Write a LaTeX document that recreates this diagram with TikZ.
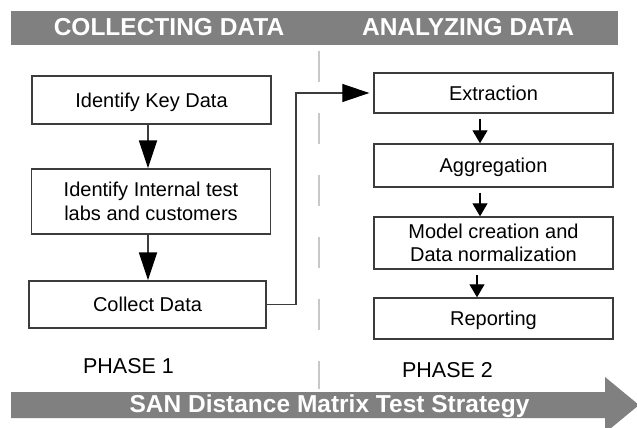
\documentclass[tikz,border=0pt]{standalone}
\usepackage{fontspec}
\setmainfont{Liberation Sans}
\usetikzlibrary{arrows.meta}
\definecolor{bandgray}{RGB}{128,128,128}
\definecolor{boxline}{RGB}{60,60,60}
\definecolor{dashgray}{RGB}{200,200,200}
\begin{document}
\begin{tikzpicture}[x=1pt,y=-1pt,
  box/.style={draw=boxline, line width=1.4pt, fill=white, font=\fontsize{20}{23.5}\selectfont, align=center, inner sep=0pt, minimum width=239pt},
  onel/.style={text height=14.5pt, text depth=0pt},
  bigarr/.style={draw=boxline, line width=1.8pt, -{Triangle[width=18pt,length=28pt,color=black]}},
  smallarr/.style={draw=black, line width=1.3pt, -{Triangle[width=15pt,length=13pt]}, shorten <=5pt},
  link/.style={draw=boxline, line width=1.2pt, -{Triangle[width=18pt,length=27pt,color=black]}, shorten >=4pt},
  hdr/.style={text=white, font=\fontsize{24.5}{28}\selectfont\bfseries, anchor=base, inner sep=0pt},
  phase/.style={font=\fontsize{21.5}{25}\selectfont, anchor=base, inner sep=0pt},
  band/.style={fill=bandgray, draw=none}
]
\useasboundingbox (0,0) rectangle (637,428);
\begin{scope}
\clip (0,0) rectangle (637,428);
% top banner
\node[band, minimum width=607pt, minimum height=34pt, inner sep=0pt] (banner) at (314.5,28) {};
\node[hdr] (h1) at (169,36) {COLLECTING DATA};
\node[hdr] (h2) at (468,36) {ANALYZING DATA};
% divider
\draw[dashgray, line width=2pt, dash pattern=on 31pt off 31pt] (319,51) -- (319,389);
% bottom arrow band
\fill[bandgray] (11,392) -- (605,392) -- (605,377) -- (639,405) -- (605,433) -- (605,418) -- (11,418) -- cycle;
\node[hdr] (title) at (329.5,412) {SAN Distance Matrix Test Strategy};
% phase 1 boxes
\node[box, onel, minimum height=48pt] (k1) at (151.5,100) {Identify Key Data};
\node[box, minimum height=65pt] (k2) at (151,201.5) {Identify Internal test\\labs and customers};
\node[box, onel, minimum height=47pt, minimum width=237pt] (k3) at (147.5,304.5) {Collect Data};
% phase 2 boxes
\node[box, onel, minimum height=40pt] (r1) at (493.5,93) {Extraction};
\node[box, onel, minimum height=43pt] (r2) at (493.5,165.5) {Aggregation};
\node[box, minimum height=52pt] (r3) at (493.5,243) {Model creation and\\Data normalization};
\node[box, onel, minimum height=41pt] (r4) at (493.5,318.5) {Reporting};
% phase labels
\node[phase] (p1) at (128.5,373) {PHASE 1};
\node[phase] (p2) at (447.5,377) {PHASE 2};
% connectors
\coordinate (ax1) at (148,0);
\draw[bigarr] (k1.south -| ax1) -- (k2.north -| ax1);
\draw[bigarr] (k2.south -| ax1) -- (k3.north -| ax1);
\coordinate (cx) at (296,0);
\draw[link] (k3.east) -| (cx |- r1.west) -- (r1.west);
\coordinate (ax2) at (480,0);
\coordinate (ax3) at (477,0);
\draw[smallarr] (r1.south -| ax2) -- (r2.north -| ax2);
\draw[smallarr] (r2.south -| ax2) -- (r3.north -| ax2);
\draw[smallarr] (r3.south -| ax3) -- (r4.north -| ax3);
\end{scope}
\end{tikzpicture}
\end{document}
